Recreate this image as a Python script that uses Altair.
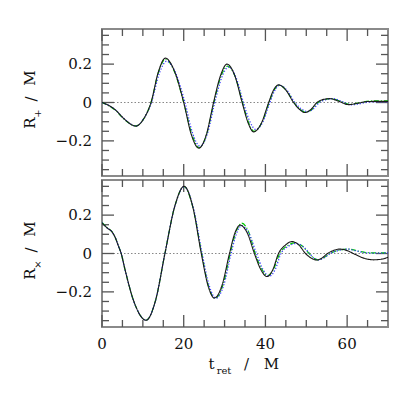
import altair as alt
import pandas as pd

# ---------------- data ----------------
# Top panel: R_+ / M
top_t_k = [0, 1.8, 3.4, 5.2, 8.3, 10.2, 12.0, 13.8, 15.5, 17.8, 20.0, 21.9, 23.7, 25.5, 27.3, 29.0, 30.6, 32.5, 34.3, 35.8, 37.1, 39.0, 40.8, 42.0, 43.2, 45.0, 46.9, 48.4, 49.6, 51.1, 52.6, 54.0, 55.8, 58.0, 60.3, 62.6, 65.0, 67.5, 70.0]
top_y_k = [0, -0.017, -0.041, -0.081, -0.123, -0.085, 0.0, 0.16, 0.231, 0.16, 0.0, -0.17, -0.238, -0.17, 0.0, 0.14, 0.2, 0.14, 0.0, -0.108, -0.153, -0.108, 0.0, 0.065, 0.092, 0.065, 0.0, -0.037, -0.052, -0.037, 0.0, 0.015, 0.02, 0.006, -0.011, -0.004, 0.005, 0.006, 0.006]

top_t_b = [0, 1.8, 3.4, 5.2, 8.3, 10.2, 12.1, 14.0, 15.8, 18.1, 20.3, 22.2, 24.0, 25.8, 27.6, 29.3, 31.0, 32.8, 34.6, 36.2, 37.6, 39.4, 41.1, 42.3, 43.5, 45.3, 47.2, 48.8, 50.3, 51.7, 53.2, 54.7, 56.5, 58.7, 61.0, 63.2, 65.5, 68.0, 70.0]
top_y_b = [0, -0.017, -0.041, -0.08, -0.122, -0.085, 0.0, 0.15, 0.215, 0.15, 0.0, -0.162, -0.228, -0.162, 0.0, 0.13, 0.185, 0.13, 0.0, -0.1, -0.14, -0.1, 0.0, 0.063, 0.09, 0.063, 0.0, -0.034, -0.047, -0.034, 0.0, 0.014, 0.02, 0.006, -0.012, -0.006, 0.003, 0.004, 0.003]

top_t_g = [0, 1.8, 3.4, 5.2, 8.3, 10.2, 12.0, 13.8, 15.5, 17.8, 20.0, 22.0, 23.8, 25.6, 27.4, 29.1, 30.7, 32.6, 34.4, 35.9, 37.2, 39.1, 40.9, 42.1, 43.3, 45.1, 47.0, 48.5, 49.9, 51.4, 52.9, 54.4, 56.0, 58.3, 60.6, 63.0, 65.5, 68.0, 70.0]
top_y_g = [0, -0.018, -0.043, -0.083, -0.122, -0.085, 0.0, 0.155, 0.225, 0.157, 0.0, -0.167, -0.235, -0.167, 0.0, 0.135, 0.19, 0.135, 0.0, -0.106, -0.15, -0.106, 0.0, 0.063, 0.09, 0.063, 0.0, -0.036, -0.05, -0.036, 0.0, 0.014, 0.02, 0.007, -0.01, -0.002, 0.008, 0.009, 0.008]

# Bottom panel: R_x / M
bot_t_k = [0, 1.2, 2.4, 3.2, 4.0, 4.7, 5.6, 7.8, 10.8, 13.1, 15.4, 17.8, 20.1, 22.2, 24.3, 25.9, 27.5, 29.4, 31.2, 32.5, 33.8, 35.6, 37.3, 38.9, 40.4, 41.8, 43.2, 44.9, 46.5, 48.2, 49.8, 51.2, 52.6, 53.8, 55.2, 56.8, 58.3, 60.0, 62.0, 64.2, 66.5, 68.3, 70.0]
bot_y_k = [0.16, 0.134, 0.114, 0.085, 0.04, 0.0, -0.081, -0.25, -0.348, -0.245, 0.0, 0.245, 0.35, 0.245, 0.0, -0.164, -0.232, -0.164, 0.0, 0.105, 0.148, 0.105, 0.0, -0.085, -0.12, -0.085, 0.0, 0.044, 0.062, 0.044, 0.0, -0.024, -0.034, -0.024, 0.0, 0.017, 0.023, 0.015, -0.005, -0.025, -0.033, -0.03, -0.02]

bot_t_b = [0, 1.2, 2.4, 3.2, 4.0, 4.7, 5.6, 7.8, 10.8, 13.1, 15.4, 17.8, 20.1, 22.3, 24.5, 26.2, 27.9, 29.8, 31.6, 32.9, 34.2, 36.0, 37.8, 39.4, 41.0, 42.4, 43.8, 45.6, 47.5, 49.2, 50.8, 51.9, 52.9, 54.3, 55.9, 58.1, 60.3, 62.5, 64.5, 67.0, 70.0]
bot_y_b = [0.16, 0.134, 0.114, 0.085, 0.04, 0.0, -0.081, -0.25, -0.347, -0.245, 0.0, 0.245, 0.348, 0.243, 0.0, -0.165, -0.233, -0.165, 0.0, 0.103, 0.145, 0.103, 0.0, -0.083, -0.118, -0.083, 0.0, 0.037, 0.052, 0.037, 0.0, -0.024, -0.033, -0.023, 0.0, 0.017, 0.023, 0.012, 0.004, 0.002, 0.003]

bot_t_g = [0, 1.2, 2.4, 3.2, 4.0, 4.7, 5.6, 7.8, 10.8, 13.1, 15.4, 17.8, 20.1, 22.2, 24.4, 26.0, 27.7, 29.6, 31.4, 32.8, 34.2, 35.9, 37.5, 39.1, 40.6, 42.0, 43.5, 45.3, 47.2, 49.0, 50.7, 51.8, 52.8, 54.2, 55.8, 58.1, 60.4, 62.6, 64.6, 67.0, 70.0]
bot_y_g = [0.162, 0.136, 0.115, 0.086, 0.041, 0.0, -0.081, -0.25, -0.347, -0.245, 0.0, 0.245, 0.349, 0.244, 0.0, -0.165, -0.233, -0.165, 0.0, 0.112, 0.158, 0.112, 0.0, -0.081, -0.115, -0.081, 0.0, 0.039, 0.055, 0.039, 0.0, -0.024, -0.033, -0.023, 0.0, 0.017, 0.023, 0.013, 0.005, 0.003, 0.004]

x_major = [0, 20, 40, 60]
x_labels = ["0", "20", "40", "60"]
x_minor = [5, 10, 15, 25, 30, 35, 45, 50, 55, 65]
y_major = [-0.2, 0.0, 0.2]
y_labels = ["\u22120.2", "0", "0.2"]
y_minor = [-0.35, -0.3, -0.25, -0.15, -0.1, -0.05, 0.05, 0.1, 0.15, 0.25, 0.3, 0.35]

# ---------------- styling ----------------
W, H = 286, 147
FONT = "DejaVu Serif"
TXT = "#111111"
TICKC = "#555555"
xs = alt.Scale(domain=[0, 70], nice=False, zero=False)
ys = alt.Scale(domain=[-0.383, 0.383], nice=False, zero=False)


def series(t, y, color, dash, width):
    df = pd.DataFrame({"t": t, "y": y})
    return alt.Chart(df).mark_line(interpolate="monotone", color=color,
                                   strokeDash=dash, strokeWidth=width, clip=True).encode(
        x=alt.X("t:Q", scale=xs, axis=None),
        y=alt.Y("y:Q", scale=ys, axis=None),
    )


def text(s, x, y, size=15, angle=0, align="center", baseline="alphabetic"):
    return alt.Chart(pd.DataFrame({"a": [0]})).mark_text(
        text=s, font=FONT, fontSize=size, angle=angle, align=align,
        baseline=baseline, color=TXT).encode(x=alt.value(x), y=alt.value(y))


def panel(tk, yk, tb, yb, tg, yg, sub, show_x):
    zero = alt.Chart(pd.DataFrame({"y": [0.0]})).mark_rule(
        color="#888888", strokeDash=[1.5, 2], strokeWidth=1.2).encode(
        y=alt.Y("y:Q", scale=ys, axis=None))

    def xt(vals, y0, y1):
        return alt.Chart(pd.DataFrame({"v": vals})).mark_rule(color=TICKC, strokeWidth=1.3).encode(
            x=alt.X("v:Q", scale=xs, axis=None), y=alt.value(y0), y2=alt.value(y1))

    def yt(vals, x0, x1):
        return alt.Chart(pd.DataFrame({"v": vals})).mark_rule(color=TICKC, strokeWidth=1.3).encode(
            y=alt.Y("v:Q", scale=ys, axis=None), x=alt.value(x0), x2=alt.value(x1))

    ylab = alt.Chart(pd.DataFrame({"v": y_major, "s": y_labels})).mark_text(
        font=FONT, fontSize=15, align="right", baseline="middle", color=TXT).encode(
        y=alt.Y("v:Q", scale=ys, axis=None), x=alt.value(-10), text="s:N")

    layers = [
        zero,
        xt(x_major, 0, 12), xt(x_minor, 0, 7), xt(x_major, H, H - 12), xt(x_minor, H, H - 7),
        yt(y_major, 0, 12), yt(y_minor, 0, 7), yt(y_major, W, W - 12), yt(y_minor, W, W - 7),
        series(tg, yg, "#00c800", [5, 2, 1, 2], 1.2),
        series(tb, yb, "#3a3aff", [1.2, 1.8], 1.3),
        series(tk, yk, "#1a1a1a", [1, 0], 1.1),
        ylab,
        text("R", -67, 94, angle=270),
        text(sub, -61, 84.5, size=10, angle=270),
        text("/", -66, 70, angle=270),
        text("M", -67, 49, angle=270),
    ]
    if show_x:
        xlab = alt.Chart(pd.DataFrame({"v": x_major, "s": x_labels})).mark_text(
            font=FONT, fontSize=15, align="center", baseline="alphabetic", color=TXT).encode(
            x=alt.X("v:Q", scale=xs, axis=None), y=alt.value(H + 22), text="s:N")
        layers += [
            xlab,
            text("t", 109.5, 189),
            text("ret", 122, 194, size=10),
            text("/", 144.5, 189),
            text("M", 169.5, 189),
        ]
    return alt.layer(*layers).properties(width=W, height=H)


top = panel(top_t_k, top_y_k, top_t_b, top_y_b, top_t_g, top_y_g, "+", False)
bottom = panel(bot_t_k, bot_y_k, bot_t_b, bot_y_b, bot_t_g, bot_y_g, "×", True)

chart = alt.vconcat(top, bottom, spacing=0).properties(
    padding={"left": 14, "top": 19, "right": 5, "bottom": 5},
    background="white",
).configure_view(stroke="#8a8a8a", strokeWidth=2)

chart.save("out.html", embed_options={"renderer": "svg", "actions": False})
